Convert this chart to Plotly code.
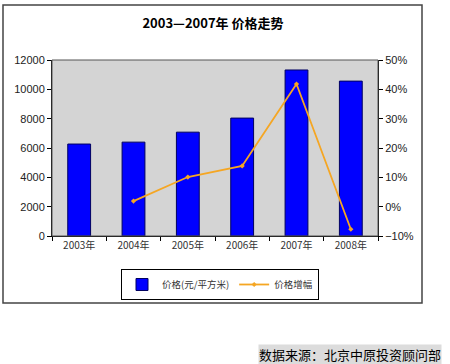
import plotly.graph_objects as go

years = ["2003年", "2004年", "2005年", "2006年", "2007年", "2008年"]
price = [6270, 6400, 7080, 8040, 11320, 10560]
growth_years = ["2004年", "2005年", "2006年", "2007年", "2008年"]
growth = [1.9, 10.1, 13.9, 41.8, -7.7]

W, H = 450, 364
L, R, T, B = 52, 378, 60, 236
pw, ph = R - L, B - T

def px(x):
    return (x - L) / pw

def py(y):
    return (B - y) / ph

font_main = "Liberation Sans, Arial, Noto Sans CJK SC, sans-serif"
cjk = "Noto Sans CJK SC, Liberation Sans, sans-serif"

fig = go.Figure()
fig.add_trace(go.Bar(
    x=years, y=price, name="价格(元/平方米)",
    marker=dict(color="#0000ff", line=dict(color="#000060", width=1)),
    width=0.42, yaxis="y",
))
fig.add_trace(go.Scatter(
    x=growth_years, y=growth, name="价格增幅", mode="lines+markers",
    line=dict(color="#f5a623", width=1.8),
    marker=dict(color="#f5a623", size=4, symbol="diamond"),
    yaxis="y2",
))

fig.update_layout(
    width=W, height=H,
    margin=dict(l=L, r=W - R, t=T, b=H - B),
    paper_bgcolor="white",
    plot_bgcolor="#d4d4d4",
    font=dict(family=font_main, size=11, color="#000"),
    showlegend=True,
    title=dict(text="<b>2003—2007年 价格走势</b>", x=(213) / W, xanchor="center",
               y=1 - 23 / H, yanchor="middle", font=dict(family=cjk, size=13, color="#000")),
    xaxis=dict(showgrid=False, ticks="outside", ticklen=4, tickcolor="#000",
               showline=True, linecolor="#000", linewidth=1, mirror=False,
               tickson="boundaries", tickfont=dict(family=cjk, size=10, color="#333")),
    yaxis=dict(range=[0, 12000], dtick=2000, tickformat="d", showgrid=False, ticks="outside", ticklen=4,
               showline=True, linecolor="#000", linewidth=1, tickcolor="#000",
               zeroline=False, tickfont=dict(size=11, color="#222")),
    yaxis2=dict(range=[-10, 50], dtick=10, ticksuffix="%", overlaying="y", side="right",
                showgrid=False, ticks="outside", ticklen=4, showline=True, linecolor="#000",
                linewidth=1, tickcolor="#000", zeroline=False, tickfont=dict(size=11, color="#222")),
    legend=dict(orientation="h", x=px(121), y=py(269), xanchor="left", yanchor="top",
                bordercolor="#000", borderwidth=1, bgcolor="white",
                font=dict(family=cjk, size=9.5, color="#333"),
                itemwidth=30, tracegroupgap=0),
    bargap=0.58,
)

# plot area border
fig.add_shape(type="rect", xref="paper", yref="paper", x0=0, x1=1, y0=0, y1=1,
              line=dict(color="#555", width=1), fillcolor="rgba(0,0,0,0)", layer="above")
# outer chart frame
fig.add_shape(type="rect", xref="paper", yref="paper",
              x0=px(3), x1=px(422), y0=py(303), y1=py(5),
              line=dict(color="#444", width=1.5), fillcolor="rgba(0,0,0,0)")

fig.add_annotation(text="数据来源：北京中原投资顾问部", xref="paper", yref="paper",
                   x=px(258), y=py(354), xanchor="left", yanchor="middle", showarrow=False,
                   font=dict(family=cjk, size=13, color="#000"), bgcolor="#dcdcdc",
                   borderpad=0)

fig.write_html("out.html", config={"displayModeBar": False},
               post_script="document.body.style.margin='0';")
